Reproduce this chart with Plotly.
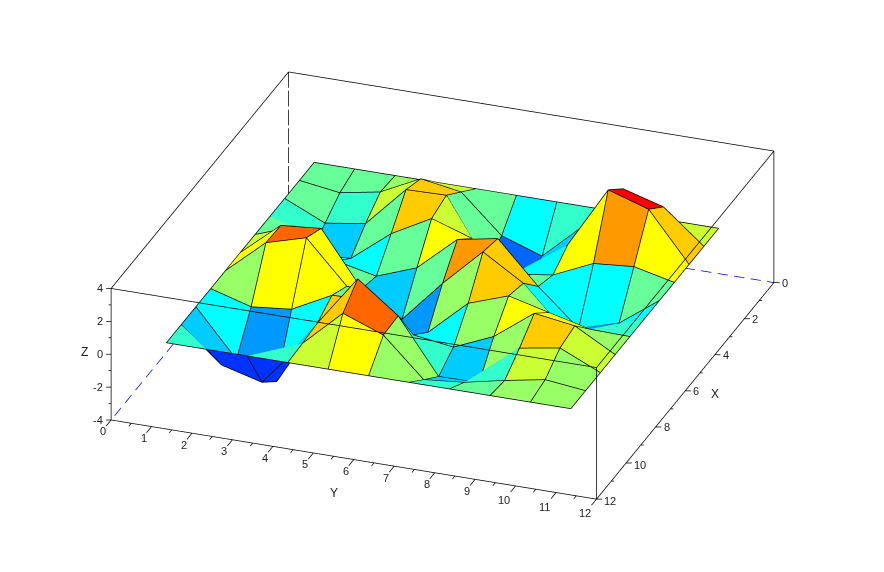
import numpy as np
import plotly.graph_objects as go

# grid nodes and heights, rows are x = 1..11, columns y = 1..11
x_nodes = [1, 2, 3, 4, 5, 6, 7, 8, 9, 10, 11]
y_nodes = [1, 2, 3, 4, 5, 6, 7, 8, 9, 10, 11]
z_x1 = [0, 0, 0, 0, 0, 0, 0, 0, 0, 0, 0]
z_x2 = [0, -0.35, 0.1, 1.3, 0.9, -1.36, -2.2, 0, 2.7, 2.0, 0]
z_x3 = [0, -1.1, -0.73, 1.74, 1.8, -2.0, -2.7, 0, 3.73, 2.95, 0]
z_x4 = [0, -1.9, -1.75, 0.16, 1.48, 0.67, -1.1, -0.75, 0.35, 0.56, 0]
z_x5 = [0, 0.9, -0.8, -1.33, -0.42, 1.7, 2.16, -0.35, -2.5, -1.78, 0]
z_x6 = [0, 2.05, 2.27, -1.0, -2.45, 0.13, 2.45, 0.94, -1.5, -2.0, 0]
z_x7 = [0, 2.1, 2.8, 0.25, -2.7, -1.76, 0.42, 1.27, 0.65, 0.05, 0]
z_x8 = [0, -0.7, -0.45, 0.8, 0.9, -0.8, -1.15, -0.1, 1.71, 1.35, 0]
z_x9 = [0, -2.8, -3.75, 0.19, 3.3, 1.45, -1.84, -1.8, 0.69, 1.1, 0]
z_x10 = [0, -2.05, -2.7, 0.07, 2.3, 1.38, -0.94, -0.7, -0.18, 0.27, 0]
z_x11 = [0, 0, 0, 0, 0, 0, 0, 0, 0, 0, 0]
z_rows = [z_x1, z_x2, z_x3, z_x4, z_x5, z_x6, z_x7, z_x8, z_x9, z_x10, z_x11]

x_range = [0, 12]
y_range = [0, 12]
z_range = [-4, 4]
x_ticks = [0, 2, 4, 6, 8, 10, 12]
x_minor = [1, 3, 5, 7, 9, 11]
y_ticks = [0, 1, 2, 3, 4, 5, 6, 7, 8, 9, 10, 11, 12]
y_minor = [0.5, 1.5, 2.5, 3.5, 4.5, 5.5, 6.5, 7.5, 8.5, 9.5, 10.5, 11.5]
z_ticks = [-4, -2, 0, 2, 4]
z_minor = [-3, -1, 1, 3]

# colour bands of the facet mean, band_step wide, symmetric round zero
band_colors = ['#0033ff', '#0066ff', '#0099ff', '#00ccff', '#00ffff', '#33ffcc', '#66ff99',
               '#99ff66', '#ccff33', '#ffff00', '#ffcc00', '#ff9900', '#ff6600', '#ff0000']
band_step = 0.4
hidden_color = '#0033ff'

zoom = 1.807
z_aspect = 0.2844
eye_dir = np.array([0.8407, 0.3073, 0.4461])
eye_dist = 2.0
# moves the box on the page, in scene units
center_shift = np.array([0.00342, 0.02912, -0.02651])
# edges sit this far towards the viewer so they do not fight with the facets
edge_lift = 0.004
# the scene is padded evenly so the ticks outside the box are not clipped
pad_x, pad_y, pad_z = 0.5, 0.5, 0.5

FONT = 'Liberation Sans'
TEXT_COLOR = '#202020'


def band_color(value):
    idx = int(np.floor(value / band_step)) + 7
    return band_colors[min(max(idx, 0), 13)]


def facing_viewer(p0, p1, p2):
    # sign of the triangle normal against the view direction, in scene proportions
    scale = np.array([1, 1, z_aspect * 12 / 8])
    a = (np.array(p1) - np.array(p0)) * scale
    b = (np.array(p2) - np.array(p0)) * scale
    return np.dot(np.cross(a, b), eye_dir) > 0


nx = len(x_nodes)
ny = len(y_nodes)
xs, ys, zs = [], [], []
for i in range(nx):
    for j in range(ny):
        xs.append(x_nodes[i])
        ys.append(y_nodes[j])
        zs.append(z_rows[i][j])


def node(i, j):
    return i * ny + j


def pos(k):
    return (xs[k], ys[k], zs[k])


tri_i, tri_j, tri_k, tri_colors = [], [], [], []
for i in range(nx - 1):
    for j in range(ny - 1):
        a = node(i, j)
        b = node(i, j + 1)
        c = node(i + 1, j + 1)
        d = node(i + 1, j)
        mean_z = (zs[a] + zs[b] + zs[c] + zs[d]) / 4
        # each facet is split along the diagonal with the smaller height step
        if abs(zs[d] - zs[b]) <= abs(zs[a] - zs[c]):
            tris = [(a, d, b), (d, c, b)]
        else:
            tris = [(a, d, c), (a, c, b)]
        for t in tris:
            tri_i.append(t[0])
            tri_j.append(t[1])
            tri_k.append(t[2])
            if facing_viewer(pos(t[0]), pos(t[1]), pos(t[2])):
                tri_colors.append(band_color(mean_z))
            else:
                tri_colors.append(hidden_color)

fig = go.Figure()

fig.add_trace(go.Mesh3d(x=xs, y=ys, z=zs, i=tri_i, j=tri_j, k=tri_k,
                        facecolor=tri_colors, flatshading=True,
                        lighting=dict(ambient=1, diffuse=0, specular=0, fresnel=0, roughness=1),
                        hoverinfo='skip', showscale=False))

# facet edges
lift_x = edge_lift * eye_dir[0] * 12
lift_y = edge_lift * eye_dir[1] * 12
lift_z = edge_lift * eye_dir[2] * 8 / z_aspect
ex, ey, ez = [], [], []
for i in range(nx):
    for j in range(ny):
        if j < ny - 1:
            ex += [x_nodes[i] + lift_x, x_nodes[i] + lift_x, None]
            ey += [y_nodes[j] + lift_y, y_nodes[j + 1] + lift_y, None]
            ez += [z_rows[i][j] + lift_z, z_rows[i][j + 1] + lift_z, None]
        if i < nx - 1:
            ex += [x_nodes[i] + lift_x, x_nodes[i + 1] + lift_x, None]
            ey += [y_nodes[j] + lift_y, y_nodes[j] + lift_y, None]
            ez += [z_rows[i][j] + lift_z, z_rows[i + 1][j] + lift_z, None]
fig.add_trace(go.Scatter3d(x=ex, y=ey, z=ez, mode='lines', line=dict(color='black', width=1.5),
                           hoverinfo='skip', showlegend=False))


def add_lines(segments, color):
    lx, ly, lz = [], [], []
    for s in segments:
        lx += [s[0][0], s[1][0], None]
        ly += [s[0][1], s[1][1], None]
        lz += [s[0][2], s[1][2], None]
    fig.add_trace(go.Scatter3d(x=lx, y=ly, z=lz, mode='lines', line=dict(color=color, width=1.5),
                               hoverinfo='skip', showlegend=False))


def dashes(p0, p1, on, off):
    # cut a box edge into dashes, on and off are fractions of the edge
    segs = []
    p0 = np.array(p0, dtype=float)
    p1 = np.array(p1, dtype=float)
    t = 0.0
    while t < 1:
        segs.append((p0 + (p1 - p0) * t, p0 + (p1 - p0) * min(t + on, 1)))
        t += on + off
    return segs


x0, x1 = x_range
y0, y1 = y_range
z0, z1 = z_range

# box outline
add_lines([((x0, y0, z1), (x0, y1, z1)), ((x0, y1, z1), (x1, y1, z1)),
           ((x1, y1, z1), (x1, y0, z1)), ((x1, y0, z1), (x0, y0, z1)),
           ((x1, y0, z0), (x1, y0, z1)), ((x1, y1, z0), (x1, y1, z1)), ((x0, y1, z0), (x0, y1, z1)),
           ((x1, y0, z0), (x1, y1, z0)), ((x1, y1, z0), (x0, y1, z0))], 'black')
add_lines(dashes((x0, y0, z1), (x0, y0, z0), 0.12, 0.023), 'black')
add_lines(dashes((x0, y0, z0), (x1, y0, z0), 0.036, 0.023)
          + dashes((x0, y0, z0), (x0, y1, z0), 0.021, 0.013), '#0000ff')

# ticks: Y ticks run along +x, X ticks and Z ticks are level on the page
ticks = []
for v in y_ticks:
    ticks.append(((x1, v, z0), (x1 + 0.34, v, z0)))
for v in y_minor:
    ticks.append(((x1, v, z0), (x1 + 0.17, v, z0)))
for v in x_ticks:
    ticks.append(((v, y1, z0), (v, y1 + 0.14, z0 + 0.057)))
for v in x_minor:
    ticks.append(((v, y1, z0), (v, y1 + 0.07, z0 + 0.028)))
for v in z_ticks:
    ticks.append(((x1, y0, v), (x1 + 0.34, y0, v + 0.37)))
for v in z_minor:
    ticks.append(((x1, y0, v), (x1 + 0.17, y0, v + 0.185)))
add_lines(ticks, 'black')


def label(x, y, z, text, dx, dy, size=11):
    return dict(x=x, y=y, z=z, text=text, showarrow=False, xshift=dx, yshift=-dy,
                xanchor='center', yanchor='middle',
                font=dict(family=FONT, size=size, color=TEXT_COLOR))


annotations = []
for v in y_ticks:
    if v < 10:
        annotations.append(label(x1, v, z0, str(v), -8, 11.5))
    else:
        annotations.append(label(x1, v, z0, str(v), -11.5, 14))
for v in x_ticks:
    if v < 10:
        annotations.append(label(v, y1, z0, str(v), 11, 0))
    else:
        annotations.append(label(v, y1, z0, str(v), 14, 1.5))
for v in z_ticks:
    if v < 0:
        annotations.append(label(x1, y0, v, str(v), -13, 0))
    else:
        annotations.append(label(x1, y0, v, str(v), -11, 0))
annotations.append(label(x1, y0, 0, 'Z', -27, -2, 12))
annotations.append(label(x1, 6, z0, 'Y', -19.5, 33, 12))
annotations.append(label(6, y1, z0, 'X', 30, 3, 12))

hidden_axis = dict(showbackground=False, showgrid=False, zeroline=False, showspikes=False,
                   showline=False, ticks='', showticklabels=False, title=dict(text=''))

eye = eye_dir * eye_dist + center_shift

fig.update_layout(
    width=884, height=572, margin=dict(l=0, r=0, t=0, b=0), paper_bgcolor='white',
    showlegend=False,
    scene=dict(
        domain=dict(x=[0, 1], y=[0, 1]),
        aspectmode='manual',
        aspectratio=dict(x=zoom * (x1 - x0 + 2 * pad_x) / (x1 - x0),
                         y=zoom * (y1 - y0 + 2 * pad_y) / (y1 - y0),
                         z=zoom * z_aspect * (z1 - z0 + 2 * pad_z) / (z1 - z0)),
        camera=dict(projection=dict(type='orthographic'),
                    up=dict(x=0, y=0, z=1),
                    center=dict(x=center_shift[0], y=center_shift[1], z=center_shift[2]),
                    eye=dict(x=eye[0], y=eye[1], z=eye[2])),
        xaxis=dict(range=[x0 - pad_x, x1 + pad_x], **hidden_axis),
        yaxis=dict(range=[y0 - pad_y, y1 + pad_y], **hidden_axis),
        zaxis=dict(range=[z0 - pad_z, z1 + pad_z], **hidden_axis),
        annotations=annotations,
    ),
)

fig.write_html("out.html")
